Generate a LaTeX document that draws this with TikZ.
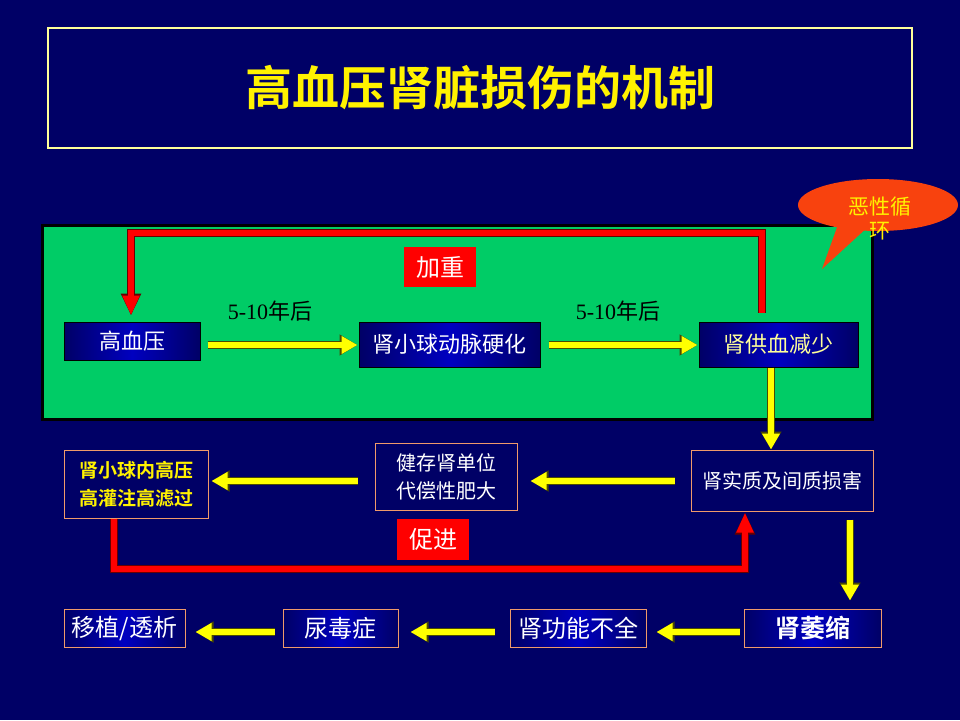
\documentclass[tikz,border=0pt]{standalone}
\usepackage{fontspec}
\setmainfont{Noto Sans CJK SC}[BoldFont={* Bold}]
\newfontfamily\latinser{Liberation Serif}
\usetikzlibrary{arrows.meta,calc,shapes.geometric}
\definecolor{bgnavy}{HTML}{000066}
\definecolor{boxmid}{HTML}{0000C0}
\definecolor{grn}{HTML}{00CC66}
\definecolor{obord}{HTML}{F09A6A}
\definecolor{ttlbord}{HTML}{FFFF99}
\definecolor{bubcol}{HTML}{F8420E}
\definecolor{lyel}{HTML}{FFFF99}
\definecolor{yarrc}{HTML}{FFFF00}
\definecolor{yedge}{HTML}{4A4A00}
\tikzset{
  gbox/.style={draw=black, line width=1pt, left color=bgnavy, right color=bgnavy, middle color=boxmid,
    text=white, inner sep=0pt, align=center, font=\fontsize{22}{24}\selectfont},
  obox/.style={draw=obord, line width=1pt, fill=bgnavy, text=white, inner sep=0pt, align=center,
    font=\fontsize{20}{28}\selectfont},
  sbox/.style={draw=obord, line width=1pt, left color=bgnavy, right color=bgnavy, middle color=boxmid,
    text=white, inner sep=0pt, align=center, minimum height=38pt, font=\fontsize{24}{26}\selectfont},
  tagbox/.style={fill=red, text=white, inner sep=0pt, minimum width=72pt, minimum height=40pt,
    font=\fontsize{24}{26}\selectfont},
  yarr/.style={line width=6.5pt, draw=yarrc, -{Triangle[length=16pt,width=17pt]},
    preaction={draw=yedge, line width=8.5pt, -{Triangle[length=18pt,width=20pt]}}},
  redline/.style={line width=6pt, draw=red, -{Triangle[length=20pt,width=16pt]},
    preaction={draw=black!60!red, line width=8pt, -{Triangle[length=22pt,width=19pt]}}},
  yrlabel/.style={text=black, inner sep=0pt, font=\fontsize{22}{24}\selectfont},
}
\begin{document}
\begin{tikzpicture}[x=1pt,y=-1pt]
\fill[bgnavy] (0,0) rectangle (960,720);
\useasboundingbox (0,0) rectangle (960,720);
% title
\node[draw=ttlbord, line width=1.2pt, minimum width=864pt, minimum height=120pt, inner sep=0pt] (titlebox) at (480,88) {};
\node[text=yellow, font=\bfseries\fontsize{47}{50}\selectfont] (title) at (titlebox.center) {高血压肾脏损伤的机制};
% green area
\node[draw=black, line width=3pt, fill=grn, minimum width=830pt, minimum height=194pt, inner sep=0pt] (green) at (457,322) {};
% bubble
\node[ellipse, fill=bubcol, minimum width=160pt, minimum height=52pt, inner sep=0pt] (bubble) at (878,205) {};
\fill[bubcol] ($(bubble.center)+(-38,14)$) -- ($(bubble.center)+(-8,20)$) -- (822,269) -- cycle;
\node[text=yellow, align=center, font=\fontsize{21}{24}\selectfont, inner sep=0pt] (bubtext) at ($(bubble.center)+(2,13)$) {恶性循\\环};
% row 1
\node[gbox, minimum width=136pt, minimum height=38pt] (hbp) at (132,341) {高血压};
\node[gbox, minimum width=181pt, minimum height=45pt] (gas) at (449.5,344.5) {肾小球动脉硬化};
\node[gbox, minimum width=159pt, minimum height=45pt, text=lyel] (rbs) at (778.5,344.5) {肾供血减少};
\node[yrlabel] (lab1) at (270,311) {{\latinser 5-10}年后};
\node[yrlabel] (lab2) at (618,311) {{\latinser 5-10}年后};
\node[tagbox] (jiazhong) at (440,267) {加重};
% row 2
\node[obox, minimum width=144pt, minimum height=68pt, text=yellow, font=\bfseries\fontsize{19}{28}\selectfont] (gh) at (136,484) {肾小球内高压\\高灌注高滤过};
\node[obox, minimum width=142pt, minimum height=67pt] (comp) at (446,476.5) {健存肾单位\\代偿性肥大};
\node[obox, minimum width=182pt, minimum height=61pt] (dmg) at (782,480.5) {肾实质及间质损害};
\node[tagbox, minimum height=41pt] (cujin) at (433,539.5) {促进};
% row 3
\node[sbox, minimum width=121pt] (tx) at (124.5,628) {移植/透析};
\node[sbox, minimum width=115pt] (ur) at (340.5,628) {尿毒症};
\node[sbox, minimum width=136pt] (rf) at (578,628) {肾功能不全};
\node[sbox, minimum width=137pt, font=\bfseries\fontsize{25}{26}\selectfont] (atr) at (812.5,628) {肾萎缩};
% red feedback lines
\draw[redline] ($(rbs.north)+(-16.5,-9)$) -- ++(0,-80) -| ($(hbp.north)+(-1,-6)$);
\draw[redline] ($(gh.south)+(-22,0)$) -- ++(0,50) -| ($(dmg.south)+(-37,1)$);
% yellow arrows
\draw[yarr] ($(hbp.east)+(7,4)$) -- ($(gas.west)+(-1,0.5)$);
\draw[yarr] ($(gas.east)+(8,0.5)$) -- ($(rbs.west)+(-1,0.5)$);
\draw[yarr] ($(rbs.south)+(-7.5,0)$) -- ($(dmg.north)+(-11,0)$);
\draw[yarr] ($(dmg.west)+(-16,0.5)$) -- ($(comp.east)+(13,4.5)$);
\draw[yarr] ($(comp.west)+(-17,4.5)$) -- ($(gh.east)+(3,-3)$);
\draw[yarr] ($(dmg.south)+(68,8)$) -- ($(atr.north)+(37.5,-8)$);
\draw[yarr] ($(atr.west)+(-4,4)$) -- ($(rf.east)+(10,4)$);
\draw[yarr] ($(rf.west)+(-15,4)$) -- ($(ur.east)+(12,4)$);
\draw[yarr] ($(ur.west)+(-8,4)$) -- ($(tx.east)+(10,4)$);
\end{tikzpicture}
\end{document}
